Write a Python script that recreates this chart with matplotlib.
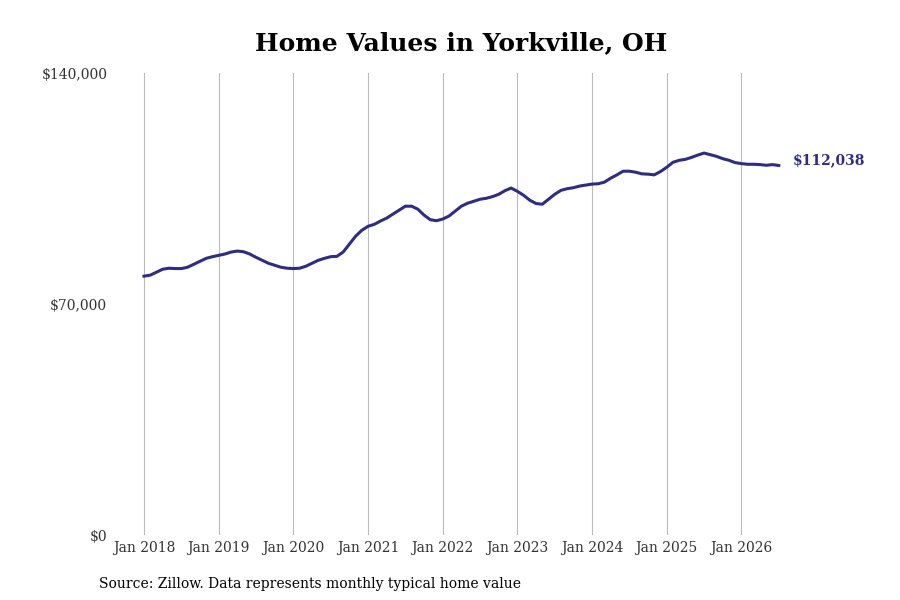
import numpy as np
import matplotlib.pyplot as plt

# monthly typical home value, Jan 2018 .. Jul 2026 (thousands of $)
v2018 = [78.5, 78.8, 79.7, 80.6, 80.9, 80.8, 80.8, 81.2, 82.1, 83.0, 83.9, 84.4]
v2019 = [84.8, 85.2, 85.8, 86.1, 85.9, 85.2, 84.2, 83.3, 82.4, 81.8, 81.2, 80.9]
v2020 = [80.8, 80.9, 81.5, 82.4, 83.3, 83.9, 84.4, 84.5, 85.8, 88.2, 90.6, 92.4]
v2021 = [93.6, 94.2, 95.2, 96.1, 97.3, 98.5, 99.7, 99.7, 98.8, 97.0, 95.6, 95.3]
v2022 = [95.8, 96.7, 98.2, 99.7, 100.6, 101.2, 101.8, 102.1, 102.6, 103.3, 104.4, 105.2]
v2023 = [104.2, 103.0, 101.5, 100.5, 100.3, 101.8, 103.3, 104.5, 105.0, 105.3, 105.8, 106.1]
v2024 = [106.4, 106.5, 107.0, 108.2, 109.2, 110.3, 110.3, 110.0, 109.5, 109.4, 109.2, 110.2]
v2025 = [111.5, 113.0, 113.6, 113.9, 114.5, 115.2, 115.8, 115.3, 114.8, 114.1, 113.6, 112.9]
v2026 = [112.6, 112.4, 112.4, 112.3, 112.1, 112.3, 112.038]

values = np.array(v2018 + v2019 + v2020 + v2021 + v2022 + v2023 + v2024 + v2025 + v2026) * 1000
months = np.arange(len(values))
years = list(range(2018, 2027))
year_labels = [f"Jan {y}" for y in years]
y_ticks = [0, 70000, 140000]
y_labels = ["$0", "$70,000", "$140,000"]

color = "#2f2b87"
plt.rcParams['font.family'] = ['DejaVu Serif']

fig = plt.figure(figsize=(9, 6), dpi=100)
ax = fig.add_axes([0.13, 0.108, 0.848, 0.77])
ax.plot(months, values, color=color, linewidth=2.2)
ax.set_xlim(-4.34, 118.3)
ax.set_ylim(0, 140000)
ax.set_xticks([(y - 2018) * 12 for y in years])
ax.set_xticklabels(year_labels, fontsize=10, color="#333333")
ax.set_yticks(y_ticks)
ax.set_yticklabels(y_labels, fontsize=10, color="#333333")
ax.grid(axis='x', color="#bbbbbb", linewidth=0.8)
ax.tick_params(axis='x', length=0, pad=4)
ax.tick_params(axis='y', length=0, pad=7)
for s in ax.spines.values():
    s.set_visible(False)

ax.annotate(f"${values[-1]:,.0f}", (months[-1], values[-1]), xytext=(10, 4),
            textcoords='offset points', va='center', fontsize=10, fontweight='bold', color=color)

fig.suptitle("Home Values in Yorkville, OH", x=0.512, y=0.948, fontsize=18, fontweight='bold')
fig.text(0.11, 0.02, "Source: Zillow. Data represents monthly typical home value", fontsize=10)

fig.savefig("out.png")
